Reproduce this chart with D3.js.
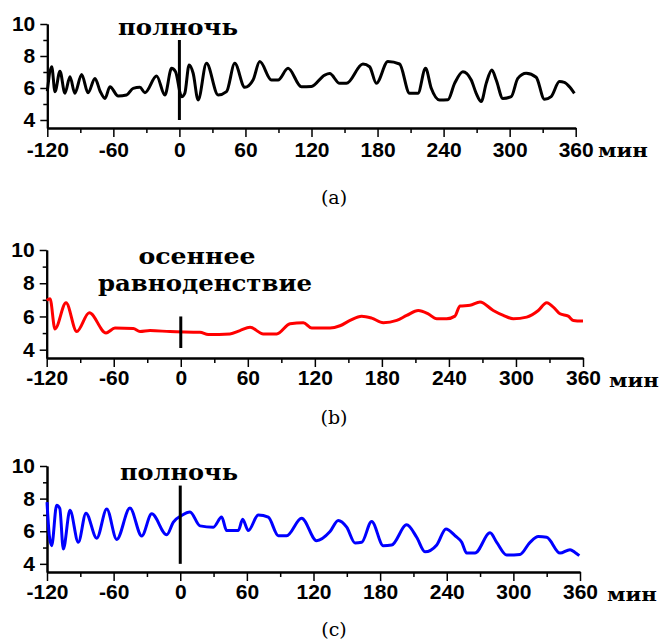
<!DOCTYPE html>
<html>
<head>
<meta charset="utf-8">
<script src="https://cdn.jsdelivr.net/npm/d3@7"></script>
<style>
  body { margin: 0; background: #fff; }
</style>
</head>
<body>
<div id="chart"></div>
<script>
// axis ticks
const tickMinutes = [-120, -60, 0, 60, 120, 180, 240, 300, 360];
const minorMinutes = [-90, -30, 30, 90, 150, 210, 270, 330];
const tickValues = [4, 6, 8, 10];
const minorValues = [5, 7, 9];

// (a) полночь
const minutesA = [-120, -116, -113, -108.5, -104, -99.4, -95, -88.8, -83, -76.7, -72, -67.6, -63.1, -55.6, -48, -42, -35.9, -31.3, -20.7, -13.2, -7.1, -3.5, 2, 4.9, 8.8, 12.5, 17, 24.6, 35.2, 42.8, 50.3, 59.4, 66.9, 73, 83.6, 89.6, 98.7, 110.8, 119.9, 132, 136.5, 145.6, 151.7, 166.7, 172.8, 178.9, 189.4, 200, 209.1, 216.7, 223.6, 228.8, 236.3, 243.9, 250, 257.5, 265.1, 269.6, 274.2, 278.7, 283.8, 287.8, 293.8, 301.4, 307.4, 315, 324.1, 331.6, 337.7, 345.2, 349.7, 354.3, 358.8];
const valuesA = [5.8, 7.33, 5.77, 7.05, 5.67, 6.71, 5.67, 6.85, 5.7, 6.6, 5.8, 5.35, 6.08, 5.5, 5.56, 5.98, 6.04, 5.71, 6.75, 5.56, 7.23, 7.02, 5.46, 5.67, 7.44, 6.92, 5.25, 7.54, 5.56, 5.77, 7.54, 6.04, 6.5, 7.65, 6.5, 6.5, 7.23, 6.08, 6.1, 6.81, 6.9, 6.29, 6.29, 7.5, 7.33, 6.29, 7.65, 7.5, 5.67, 5.67, 7.23, 5.98, 5.25, 5.27, 6.29, 7.02, 6.5, 5.67, 5.15, 6.29, 7.13, 6.5, 5.35, 5.46, 6.6, 6.92, 6.67, 5.29, 5.46, 6.4, 6.35, 6.08, 5.67];

// (b) осеннее равноденствие
const minutesB = [-120, -117, -112.6, -102.7, -93.1, -81.9, -66.9, -58.9, -42.5, -36.5, -27.5, -9.6, 17.2, 24.6, 44, 53, 62, 73.9, 85.9, 97.8, 109.7, 117.2, 133.6, 142.5, 151.5, 161.9, 170.9, 181.3, 193.3, 202.2, 212.6, 221.5, 229.1, 238, 245.4, 249.9, 258.9, 267.8, 279.7, 288.7, 297.6, 309.6, 320, 327.5, 335, 339.4, 346.8, 351.3, 360];
const valuesB = [6.97, 7.07, 5.25, 6.83, 5.09, 6.22, 5.01, 5.3, 5.27, 5.09, 5.15, 5.09, 5.05, 4.91, 4.95, 5.15, 5.35, 4.95, 4.95, 5.56, 5.62, 5.3, 5.3, 5.44, 5.76, 6.02, 5.9, 5.62, 5.76, 6.06, 6.36, 6.16, 5.86, 5.86, 6.02, 6.63, 6.67, 6.87, 6.36, 6.06, 5.86, 5.96, 6.36, 6.83, 6.46, 6.16, 6.02, 5.76, 5.72];

// (c) полночь
const minutesC = [-120, -117.9, -115.8, -111.3, -108.5, -105.3, -99.3, -91.8, -84.9, -75.2, -66.2, -57.2, -45.3, -34.7, -25.7, -12.2, -6.2, 1.3, 8.8, 17.8, 29.8, 37.3, 41.8, 52.3, 56.2, 61.3, 70.3, 79.3, 88.3, 95.8, 109.3, 122.8, 134.9, 142.3, 149.9, 157.4, 163.4, 172.4, 182.9, 190.4, 203.9, 212.9, 220.4, 231, 239.3, 247.4, 253.5, 258, 265.4, 279, 285, 294, 306, 315, 322.5, 330, 342, 351, 355.5, 359.4];
const valuesC = [7.79, 5.73, 5.11, 7.59, 7.4, 4.91, 7.28, 5.32, 7.11, 5.57, 7.36, 5.5, 7.42, 5.71, 7.07, 5.78, 6.56, 6.97, 7.18, 6.33, 6.25, 6.87, 6.04, 6.04, 6.73, 6.04, 7.0, 6.86, 5.73, 5.73, 6.8, 5.42, 5.98, 6.66, 6.25, 5.28, 5.32, 6.6, 5.11, 5.15, 6.39, 5.63, 4.74, 5.16, 6.14, 5.73, 5.32, 4.66, 4.66, 5.9, 5.32, 4.54, 4.58, 5.32, 5.67, 5.63, 4.66, 4.87, 4.7, 4.5];

// vertical marker spans (value range at minute 0)
const markerA = [4, 9];
const markerB = [4.1, 6];
const markerC = [4, 8.8];

const panels = [
  { minutes: minutesA, values: valuesA, marker: markerA, color: '#000000',
    x0: 47.3, x1: 575.7, yTop: 24, yAxis: 128, labelPad: 5, unitX: 598,
    notes: [{ text: 'полночь', x: 178, y: 35, w: 120 }],
    caption: '(a)', capY: 204 },
  { minutes: minutesB, values: valuesB, marker: markerB, color: '#ff0000',
    x0: 46.7, x1: 583, yTop: 250, yAxis: 358, labelPad: 3, unitX: 609,
    notes: [{ text: 'осеннее', x: 197, y: 264, w: 117 },
            { text: 'равноденствие', x: 205, y: 291, w: 214 }],
    caption: '(b)', capY: 424 },
  { minutes: minutesC, values: valuesC, marker: markerC, color: '#0000ff',
    x0: 47, x1: 580, yTop: 466, yAxis: 572, labelPad: 3, unitX: 607,
    notes: [{ text: 'полночь', x: 179, y: 480, w: 118 }],
    caption: '(c)', capY: 636 }
];

const svg = d3.select('#chart').append('svg')
  .attr('width', 661)
  .attr('height', 644)
  .style('font-family', '"Liberation Sans", Arial, sans-serif');

panels.forEach(p => {
  let x = d3.scaleLinear().domain([-120, 360]).range([p.x0, p.x1]);
  let y = d3.scaleLinear().domain([3.5, 10]).range([p.yAxis, p.yTop]);
  let g = svg.append('g');

  // minor ticks first, then major axes on top
  g.append('g')
    .attr('transform', `translate(0,${p.yAxis})`)
    .call(d3.axisBottom(x).tickValues(minorMinutes).tickSize(5).tickSizeOuter(0).tickFormat(''));
  g.append('g')
    .attr('transform', `translate(${p.x0},0)`)
    .call(d3.axisLeft(y).tickValues(minorValues).tickSize(4).tickSizeOuter(0).tickFormat(''));

  let xAxis = g.append('g')
    .attr('transform', `translate(0,${p.yAxis})`)
    .call(d3.axisBottom(x).tickValues(tickMinutes).tickSize(9).tickSizeOuter(0)
      .tickPadding(p.labelPad).tickFormat(d => String(d)));
  let yAxis = g.append('g')
    .attr('transform', `translate(${p.x0},0)`)
    .call(d3.axisLeft(y).tickValues(tickValues).tickSize(7).tickSizeOuter(0)
      .tickPadding(5).tickFormat(d => String(d)));

  g.selectAll('.domain').attr('stroke', '#000').attr('stroke-width', 2);
  g.selectAll('.tick line').attr('stroke', '#000').attr('stroke-width', 1.5);
  [xAxis, yAxis].forEach(a => a.selectAll('text')
    .attr('fill', '#000')
    .style('font-family', '"Liberation Sans", Arial, sans-serif')
    .style('font-size', '21px')
    .style('font-weight', 'bold'));

  // unit label
  g.append('text')
    .attr('x', p.unitX)
    .attr('y', p.yAxis + 29)
    .attr('textLength', 50)
    .attr('lengthAdjust', 'spacingAndGlyphs')
    .style('font-family', '"DejaVu Serif", serif')
    .style('font-weight', 'bold')
    .style('font-size', '19px')
    .text('мин');

  // series
  let line = d3.line()
    .x((d, i) => x(p.minutes[i]))
    .y(d => y(d))
    .curve(d3.curveMonotoneX);
  g.append('path')
    .datum(p.values)
    .attr('d', line)
    .attr('fill', 'none')
    .attr('stroke', p.color)
    .attr('stroke-width', 3)
    .attr('stroke-linejoin', 'round');

  // marker at 0
  g.append('line')
    .attr('x1', x(0)).attr('x2', x(0))
    .attr('y1', y(p.marker[0])).attr('y2', y(p.marker[1]))
    .attr('stroke', '#000')
    .attr('stroke-width', 3);

  // annotations
  p.notes.forEach(n => {
    g.append('text')
      .attr('x', n.x)
      .attr('y', n.y)
      .attr('text-anchor', 'middle')
      .attr('textLength', n.w)
      .attr('lengthAdjust', 'spacingAndGlyphs')
      .style('font-family', '"DejaVu Serif", serif')
      .style('font-weight', 'bold')
      .style('font-size', '23px')
      .text(n.text);
  });

  // caption
  svg.append('text')
    .attr('x', 334)
    .attr('y', p.capY)
    .attr('text-anchor', 'middle')
    .style('font-family', '"DejaVu Serif", serif')
    .style('font-size', '19px')
    .text(p.caption);
});
</script>
</body>
</html>
